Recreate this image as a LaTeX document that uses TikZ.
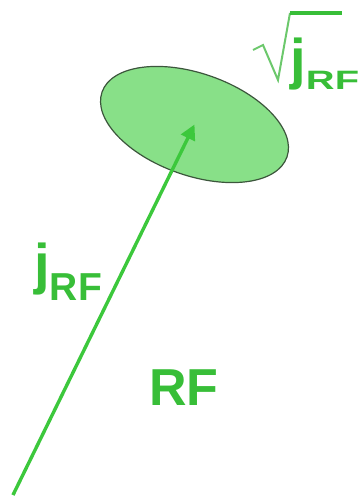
\documentclass[tikz,border=0pt]{standalone}
\usepackage{fontspec}
\setmainfont{Liberation Sans}
\usepackage{graphicx}
\usepackage{tikz}
\usetikzlibrary{arrows.meta,shapes.geometric}
\definecolor{rfGreen}{HTML}{38BE38}
\definecolor{lineGreen}{HTML}{3CC83C}
\definecolor{spotFill}{HTML}{88E088}
\definecolor{rimDark}{HTML}{3C563C}
\definecolor{rootGreen}{HTML}{6CC86C}
\tikzset{>={Triangle[length=7.5pt,width=7.5pt]},
  spot/.style={ellipse,draw=rimDark,line width=0.6pt,fill=spotFill,inner sep=0pt,
    minimum width=98pt,minimum height=51pt},
  lbl/.style={inner sep=0pt,anchor=base west,text=rfGreen,font=\fontsize{28}{30}\selectfont\bfseries},
  vec/.style={->,line width=1.7pt,draw=lineGreen,fill=lineGreen},
  rootline/.style={line width=1pt,draw=rootGreen,line join=miter},
  rootbar/.style={line width=2pt,draw=rfGreen}}

\begin{document}
\begin{tikzpicture}[x=0.5pt,y=-0.5pt]
  \useasboundingbox (0,0) rectangle (360,498);
  \node[spot,rotate=-19.4] (spot) at (194.5,124.5) {};
  \coordinate (tail) at (13,495);
  \draw[vec] (tail) -- (spot.center);
  % labels
  \node[lbl] (jrf) at (34,283) {j\raisebox{-8.5pt}{\fontsize{19.5}{20}\selectfont RF}};
  \node[lbl] (rf) at (149,405) {\fontsize{26}{28}\selectfont RF};
  \node[lbl] (rootjrf) at (290,78) {j\raisebox{-5.5pt}{\scalebox{1.5}[1]{\fontsize{13.3}{14}\selectfont RF}}};
  % radical sign
  \draw[rootline] (253,50) -- (263,45) -- (278,80) -- (290,13);
  \draw[rootbar] (290,13) -- (342,13);
\end{tikzpicture}
\end{document}
